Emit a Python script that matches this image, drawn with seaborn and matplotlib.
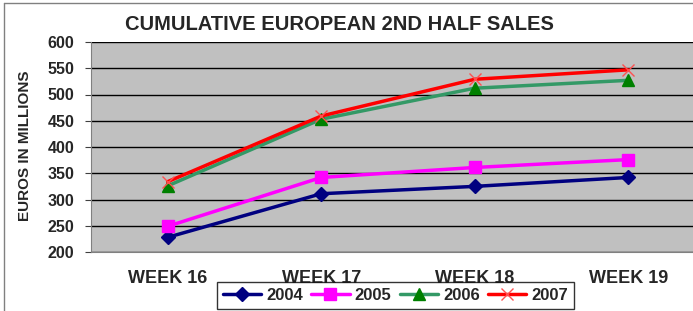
import numpy as np
import pandas as pd
import matplotlib.pyplot as plt
from matplotlib.lines import Line2D
import seaborn as sns

weeks = ["WEEK 16", "WEEK 17", "WEEK 18", "WEEK 19"]
years = ["2004", "2005", "2006", "2007"]
sales_2004 = [228, 311, 325, 342]
sales_2005 = [249, 342, 361, 376]
sales_2006 = [326, 453, 512, 527]
sales_2007 = [334, 459, 529, 547]
yticks = [200, 250, 300, 350, 400, 450, 500, 550, 600]

series = [sales_2004, sales_2005, sales_2006, sales_2007]
df = pd.DataFrame({
    "week": weeks * len(years),
    "sales": sum(series, []),
    "year": [y for y in years for _ in weeks],
})

sns.set_style("white")
plt.rcParams["font.family"] = ["Liberation Sans", "DejaVu Sans"]
plt.rcParams["font.weight"] = "bold"

# line colour, marker, marker face, marker edge, marker size
styles = {
    "2004": ("#000080", "D", "#000080", "#000080", 7),
    "2005": ("#FF00FF", "s", "#FF00FF", "#FF00FF", 9),
    "2006": ("#339966", "^", "#008000", "#008000", 9),
    "2007": ("#FF0000", "x", "#FF0000", "#FF5050", 8),
}

fig = plt.figure(figsize=(6.93, 3.11), dpi=100)
ax = fig.add_axes([91 / 693, 59 / 311, 614 / 693, 210 / 311])
ax.set_facecolor("#C0C0C0")

for yr in years:
    col, mk, mfc, mec, ms = styles[yr]
    sns.lineplot(data=df[df["year"] == yr], x="week", y="sales", color=col,
                 marker=mk, markerfacecolor=mfc, markeredgecolor=mec,
                 markersize=ms, markeredgewidth=1, linewidth=2.5, ax=ax,
                 label=yr, legend=False)

ax.set_xlim(-0.5, 3.5)
ax.set_ylim(200, 600)
ax.set_yticks(yticks)
ax.set_xticks(range(len(weeks)))
ax.set_xticklabels(weeks)
ax.set_xticks([0.5, 1.5, 2.5], minor=True)
ax.tick_params(axis="x", which="major", length=0, pad=13, labelsize=13)
ax.tick_params(axis="x", which="minor", length=5, color="#404040", direction="out")
ax.tick_params(axis="y", length=4, color="#404040", direction="out", left=True,
               labelsize=11.5, pad=8)
ax.yaxis.grid(True, color="black", linewidth=1)
ax.set_axisbelow(True)
for s in ["top", "right"]:
    ax.spines[s].set_visible(False)
for s in ["left", "bottom"]:
    ax.spines[s].set_color("#808080")
ax.set_xlabel("")
ax.set_ylabel("")

fig.text(25 / 693, 1 - 146 / 311, "EUROS IN MILLIONS", rotation=90,
         ha="center", va="center", fontsize=11, fontweight="bold")
fig.text(339 / 693, 1 - 24 / 311, "CUMULATIVE EUROPEAN 2ND HALF SALES",
         ha="center", va="center", fontsize=14.5, fontweight="bold")

handles = []
for yr in years:
    col, mk, mfc, mec, ms = styles[yr]
    handles.append(Line2D([], [], color=col, marker=mk, markerfacecolor=mfc,
                          markeredgecolor=mec, markersize=ms, linewidth=2.5))
leg = fig.legend(handles, years, loc="center", ncol=4,
                 bbox_to_anchor=(395.5 / 693, 1 - 295.5 / 311), frameon=True,
                 fancybox=False, edgecolor="black", handlelength=2.3,
                 handletextpad=0.3, columnspacing=0.5, borderpad=0.35,
                 prop={"weight": "bold", "size": 12})
leg.get_frame().set_linewidth(1)

# outer chart border (left and top only visible in the crop)
fig.add_artist(Line2D([4 / 693, 4 / 693], [0, 1 - 3 / 311], color="#808080", lw=1))
fig.add_artist(Line2D([4 / 693, 1], [1 - 3 / 311, 1 - 3 / 311], color="#808080", lw=1))

fig.savefig("out.png", dpi=100)
